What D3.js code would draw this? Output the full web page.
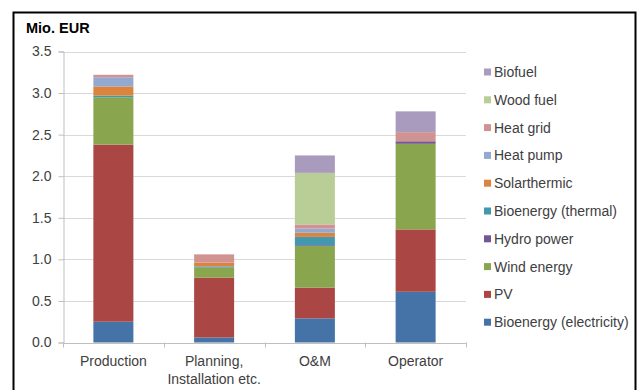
<!DOCTYPE html>
<html>
<head>
<meta charset="utf-8">
<script src="https://cdn.jsdelivr.net/npm/d3@7"></script>
<style>
  html, body { margin: 0; padding: 0; background: #fff; }
  svg { display: block; font-family: "Liberation Sans", Arial, sans-serif; }
</style>
</head>
<body>
<svg id="chart" width="638" height="390"></svg>
<script>
// Cost categories along the x axis (label lines)
const categories = ["Production", "Planning, Installation etc.", "O&M", "Operator"];
const categoryLines = [["Production"], ["Planning,", "Installation etc."], ["O&M"], ["Operator"]];

// Series, bottom to top of each stack
const seriesNames = [
  "Bioenergy (electricity)", "PV", "Wind energy", "Hydro power",
  "Bioenergy (thermal)", "Solarthermic", "Heat pump", "Heat grid",
  "Wood fuel", "Biofuel"
];
const bioElectricity = [0.25, 0.06, 0.29, 0.61];
const pv             = [2.13, 0.72, 0.37, 0.75];
const windEnergy     = [0.57, 0.12, 0.50, 1.03];
const hydroPower     = [0.00, 0.00, 0.01, 0.03];
const bioThermal     = [0.02, 0.015, 0.10, 0.00];
const solarthermic   = [0.11, 0.045, 0.05, 0.00];
const heatPump       = [0.11, 0.00, 0.05, 0.00];
const heatGrid       = [0.03, 0.10, 0.05, 0.11];
const woodFuel       = [0.00, 0.00, 0.62, 0.00];
const biofuel        = [0.00, 0.00, 0.21, 0.25];
const seriesValues = [bioElectricity, pv, windEnergy, hydroPower, bioThermal,
                      solarthermic, heatPump, heatGrid, woodFuel, biofuel];

const colors = ["#4572A7", "#AA4643", "#89A54E", "#71588F", "#4198AF",
                "#DB843D", "#93A9CF", "#D19392", "#B9CD96", "#A99BBD"];

const yTicks = [0, 0.5, 1.0, 1.5, 2.0, 2.5, 3.0, 3.5];

const svg = d3.select("#chart");

// outer frame
svg.append("rect")
  .attr("x", 13.5).attr("y", 12.5)
  .attr("width", 622).attr("height", 400)
  .attr("fill", "#fff").attr("stroke", "#000").attr("stroke-width", 2);

const plot = { left: 63, right: 466, top: 51.5, bottom: 342.5 };

const x = d3.scaleBand().domain(categories).range([plot.left, plot.right]).paddingInner(0).paddingOuter(0);
const y = d3.scaleLinear().domain([0, 3.5]).range([plot.bottom, plot.top]);

// horizontal gridlines
svg.append("g").selectAll("line").data(yTicks.slice(1)).join("line")
  .attr("x1", plot.left).attr("x2", plot.right)
  .attr("y1", d => Math.round(y(d)) + 0.5).attr("y2", d => Math.round(y(d)) + 0.5)
  .attr("stroke", "#d9d9d9").attr("stroke-width", 1);

// y axis
const yAxis = svg.append("g")
  .attr("transform", `translate(${plot.left + 0.5},0)`)
  .call(d3.axisLeft(y).tickValues(yTicks).tickFormat(d3.format(".1f")).tickSize(5).tickPadding(7));
yAxis.select(".domain").attr("stroke", "#bfbfbf");
yAxis.selectAll(".tick line").attr("stroke", "#bfbfbf");
yAxis.selectAll(".tick text").attr("font-size", 14).attr("fill", "#404040")
  .attr("font-family", "Liberation Sans, Arial, sans-serif");

// stacked data
const rows = categories.map((c, i) => {
  const r = { category: c };
  seriesNames.forEach((s, k) => { r[s] = seriesValues[k][i]; });
  return r;
});
const stacked = d3.stack().keys(seriesNames)(rows);

const barWidth = 40;
svg.append("g").selectAll("g").data(stacked).join("g")
  .attr("fill", (d, i) => colors[i])
  .selectAll("rect").data(d => d).join("rect")
  .attr("x", d => x(d.data.category) + x.bandwidth() / 2 - barWidth / 2)
  .attr("width", barWidth)
  .attr("y", d => y(d[1]))
  .attr("height", d => Math.max(0, y(d[0]) - y(d[1])));

// x axis
const xAxis = svg.append("g")
  .attr("transform", `translate(0,${plot.bottom + 0.5})`)
  .call(d3.axisBottom(x).tickSize(0).tickFormat(""));
xAxis.select(".domain").attr("stroke", "#bfbfbf");
// tick marks at band boundaries
const bounds = categories.map(c => x(c)).concat([plot.right]);
svg.append("g").selectAll("line").data(bounds).join("line")
  .attr("x1", d => Math.round(d) + 0.5).attr("x2", d => Math.round(d) + 0.5)
  .attr("y1", plot.bottom).attr("y2", plot.bottom + 5)
  .attr("stroke", "#bfbfbf");

// category labels
const catG = svg.append("g").selectAll("text").data(categories).join("text")
  .attr("x", d => x(d) + x.bandwidth() / 2)
  .attr("y", 366)
  .attr("text-anchor", "middle")
  .attr("font-size", 14).attr("fill", "#404040");
catG.each(function(d, i) {
  const t = d3.select(this);
  categoryLines[i].forEach((line, j) => {
    t.append("tspan").attr("x", x(d) + x.bandwidth() / 2).attr("dy", j === 0 ? 0 : 18).text(line);
  });
});

// y unit title
svg.append("text")
  .attr("x", 26).attr("y", 33)
  .attr("font-size", 14.5).attr("font-weight", "bold").attr("fill", "#000")
  .text("Mio. EUR");

// legend, top to bottom in reverse stack order
const legendItems = seriesNames.map((s, i) => ({ name: s, color: colors[i] })).reverse();
const legend = svg.append("g").selectAll("g").data(legendItems).join("g")
  .attr("transform", (d, i) => `translate(484,${72 + i * 27.8})`);
legend.append("rect")
  .attr("x", 0).attr("y", -3.5).attr("width", 7).attr("height", 7)
  .attr("fill", d => d.color);
legend.append("text")
  .attr("x", 10).attr("y", 5)
  .attr("font-size", 14).attr("fill", "#404040")
  .text(d => d.name);
</script>
</body>
</html>
